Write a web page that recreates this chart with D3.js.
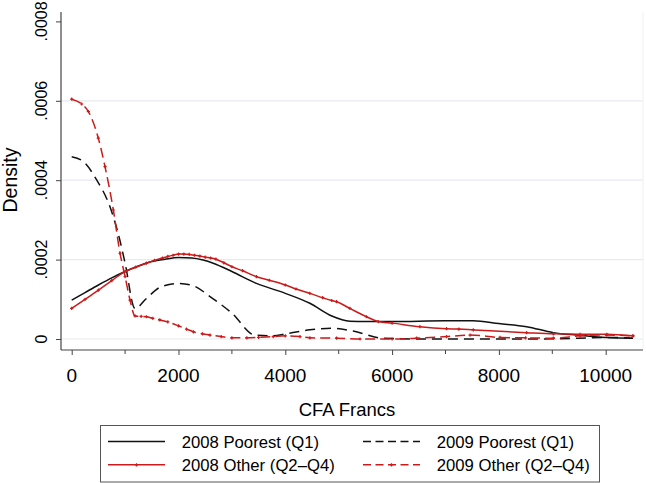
<!DOCTYPE html>
<html><head><meta charset="utf-8">
<script src="https://cdn.jsdelivr.net/npm/d3@7"></script>
<style>body{margin:0;background:#fff}svg{display:block}text{font-family:"Liberation Sans",Arial,sans-serif;fill:#000}</style>
</head><body><svg id="c" width="646" height="483"></svg>
<script>
const yTicks = [0, 0.0002, 0.0004, 0.0006, 0.0008];
const yTickLabels = ["0", ".0002", ".0004", ".0006", ".0008"];
const xTicks = [0, 2000, 4000, 6000, 8000, 10000];
const xMinorTicks = [1000, 3000, 5000, 7000, 9000];
const seriesNames = ["2008 Poorest (Q1)", "2009 Poorest (Q1)", "2008 Other (Q2\u2013Q4)", "2009 Other (Q2\u2013Q4)"];

const poor2008X = [0,250,500,750,1000,1250,1500,1750,2000,2250,2460,2650,3000,3460,4000,4460,4870,5210,5520,6000,7000,7520,8000,8520,9020,9460,10020,10510];
const poor2008Y = [0.000098,0.000117,0.000136,0.000154,0.000170,0.000184,0.000195,0.000201,0.000205,0.000204,0.000199,0.000191,0.000170,0.000140,0.000115,0.000090,0.000058,0.000045,0.000044,0.000044,0.000046,0.000046,0.000039,0.000031,0.000016,0.000010,0.000004,0.000002];

const poor2009X = [0,217,470,717,900,1000,1185,1400,1650,2000,2280,2590,3000,3430,3775,4000,4460,4870,5270,5830,6500,7500,8500,9500,10020,10510];
const poor2009Y = [0.000459,0.000447,0.000400,0.000333,0.000250,0.000191,0.000077,0.000102,0.000130,0.000140,0.000134,0.000107,0.000065,0.000010,0.000008,0.000013,0.000023,0.000027,0.000020,0.000002,0.000000,0.000000,0.000000,0.000002,0.000004,0.000002];

const other2008X = [0,250,500,750,1000,1200,1400,1550,1700,1800,1900,2000,2100,2200,2300,2400,2500,2600,2700,2850,3000,3200,3460,3700,4000,4200,4460,4700,4870,4960,5210,5520,5740,6000,6520,7020,7250,7520,8520,9020,9520,10020,10510];
const other2008Y = [0.000077,0.000100,0.000123,0.000147,0.000170,0.000181,0.000191,0.000198,0.000204,0.000208,0.000211,0.000214,0.000214,0.000213,0.000211,0.000209,0.000206,0.000204,0.000201,0.000192,0.000182,0.000172,0.000157,0.000148,0.000136,0.000126,0.000115,0.000104,0.000097,0.000094,0.000077,0.000056,0.000044,0.000040,0.000031,0.000026,0.000025,0.000023,0.000016,0.000013,0.000012,0.000012,0.000008];

const other2009X = [0,187,312,498,624,780,905,1000,1092,1185,1300,1400,1520,1650,1800,2000,2150,2280,2450,2590,2800,3000,3280,3500,3775,4000,4275,4460,4960,5400,6000,6460,7020,7460,8020,8500,9020,9520,10020,10510];
const other2009Y = [0.000604,0.000592,0.000573,0.000506,0.000434,0.000325,0.000216,0.000157,0.000098,0.000058,0.000057,0.000056,0.000052,0.000048,0.000043,0.000033,0.000025,0.000018,0.000013,0.000010,0.000006,0.000003,0.000003,0.000004,0.000006,0.000008,0.000006,0.000003,0.000002,0.000000,0.000000,0.000002,0.000006,0.000010,0.000004,0.000003,0.000002,0.000008,0.000010,0.000008];

const RED = "#cc1a1a";
const svg = d3.select("#c");
const x = d3.scaleLinear().domain([0, 10000]).range([71.7, 605.7]);
const y = d3.scaleLinear().domain([0, 0.0008]).range([339, 21.4]);
const plotL = 61, plotR = 643, plotT = 12, plotB = 350;

// gridlines
svg.append("g").selectAll("line").data(yTicks.slice(0,4)).join("line")
  .attr("x1", plotL).attr("x2", plotR).attr("y1", d => y(d)).attr("y2", d => y(d))
  .attr("stroke", "#e6ebee").attr("stroke-width", 1.2);
svg.append("line").attr("x1", plotR).attr("x2", plotR).attr("y1", plotT).attr("y2", plotB)
  .attr("stroke", "#eef1f3").attr("stroke-width", 1);

// axes
const yAxis = d3.axisLeft(y).tickValues(yTicks).tickFormat("").tickSize(5).tickSizeOuter(0);
const gy = svg.append("g").attr("transform", `translate(${plotL},0)`).call(yAxis);
gy.select(".domain").remove();
gy.append("line").attr("x1",0).attr("x2",0).attr("y1",plotT).attr("y2",plotB).attr("stroke","#444").attr("stroke-width",1.2);
gy.selectAll(".tick line").attr("stroke","#444");

const xAxis = d3.axisBottom(x).tickValues(xTicks).tickFormat("").tickSize(5).tickSizeOuter(0);
const gx = svg.append("g").attr("transform", `translate(0,${plotB})`).call(xAxis);
gx.select(".domain").remove();
gx.append("line").attr("x1",plotL).attr("x2",plotR).attr("y1",0).attr("y2",0).attr("stroke","#444").attr("stroke-width",1.2);
gx.selectAll(".tick line").attr("stroke","#444");
gx.selectAll("line.minor").data(xMinorTicks).join("line").attr("class","minor")
  .attr("x1", d => x(d)).attr("x2", d => x(d)).attr("y1", 0).attr("y2", 4).attr("stroke", "#444");

// tick labels
svg.append("g").selectAll("text").data(yTicks).join("text")
  .attr("transform", d => `translate(46.5,${y(d)}) rotate(-90)`)
  .attr("text-anchor", "middle").style("font-size", "16px")
  .text((d, i) => yTickLabels[i]);
svg.append("g").selectAll("text").data(xTicks).join("text")
  .attr("x", d => x(d)).attr("y", 381.7).attr("text-anchor", "middle").style("font-size", "19px")
  .text(d => d3.format("d")(d));

svg.append("text").attr("transform", "translate(16.7,180) rotate(-90)").attr("text-anchor","middle")
  .style("font-size","19.5px").text("Density");
svg.append("text").attr("x", 347).attr("y", 415.7).attr("text-anchor","middle")
  .style("font-size","18.5px").text("CFA Francs");

// series
const line = d3.line().x(d => x(d[0])).y(d => y(d[1])).curve(d3.curveMonotoneX);
const zip = (a, b) => a.map((v, i) => [v, b[i]]);
const series = [
  {data: zip(poor2008X, poor2008Y), color: "#111", dash: null, marks: false},
  {data: zip(poor2009X, poor2009Y), color: "#111", dash: "10,6", marks: false},
  {data: zip(other2008X, other2008Y), color: RED, dash: null, marks: true},
  {data: zip(other2009X, other2009Y), color: RED, dash: "10,5", marks: true}
];
const sg = svg.append("g");
series.forEach(s => {
  sg.append("path").attr("d", line(s.data)).attr("fill","none").attr("stroke", s.color)
    .attr("stroke-width", 1.5).attr("stroke-dasharray", s.dash);
  if (s.marks) {
    sg.append("g").selectAll("path").data(s.data).join("path")
      .attr("d", d => { const px = x(d[0]), py = y(d[1]); return `M${px-1.6},${py}H${px+1.6}M${px},${py-1.6}V${py+1.6}`; })
      .attr("stroke", s.color).attr("stroke-width", 1.2);
  }
});

// legend
const lg = svg.append("g");
lg.append("rect").attr("x", 100.5).attr("y", 425.5).attr("width", 499).attr("height", 56.5)
  .attr("fill", "#fff").attr("stroke", "#555").attr("stroke-width", 1);
const legendPos = [[108, 441.5], [363, 441.5], [108, 464.8], [363, 464.8]];
series.forEach((s, i) => {
  const [lx, ly] = legendPos[i];
  lg.append("line").attr("x1", lx).attr("x2", lx + 57).attr("y1", ly).attr("y2", ly)
    .attr("stroke", s.color).attr("stroke-width", 1.5).attr("stroke-dasharray", s.dash ? "8,4.5" : null);
  if (s.marks) {
    const mx = lx + 28.5;
    lg.append("path").attr("d", `M${mx-1.6},${ly}H${mx+1.6}M${mx},${ly-1.6}V${ly+1.6}`)
      .attr("stroke", s.color).attr("stroke-width", 1.2);
  }
  lg.append("text").attr("x", lx + 73.7).attr("y", ly + 6).style("font-size", "16.7px").text(seriesNames[i]);
});
</script></body></html>
